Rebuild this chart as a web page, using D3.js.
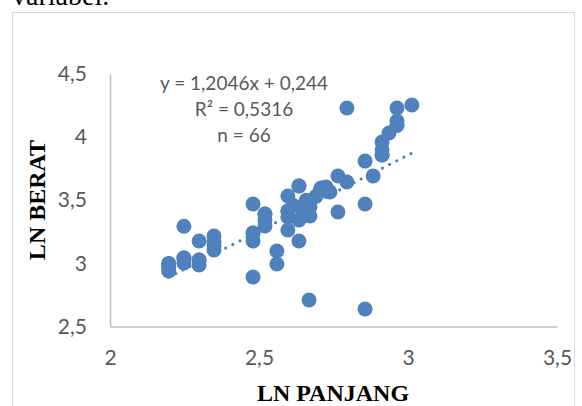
<!DOCTYPE html>
<html>
<head>
<meta charset="utf-8">
<script src="https://cdn.jsdelivr.net/npm/d3@7"></script>
<style>
  body { margin: 0; background: #fff; }
  svg { display: block; }
</style>
</head>
<body>
<div id="chart"></div>
<script>
// LN PANJANG (x) vs LN BERAT (y)
const lnPanjang = [
  2.197, 2.197, 2.197, 2.197,
  2.248, 2.248, 2.248, 2.248,
  2.299, 2.299, 2.299, 2.299,
  2.349, 2.349, 2.349, 2.349,
  2.480, 2.480, 2.480, 2.480, 2.480,
  2.520, 2.520, 2.520, 2.520,
  2.560, 2.560,
  2.597, 2.597, 2.597, 2.597, 2.597,
  2.614, 2.634, 2.634, 2.634, 2.634,
  2.648, 2.658, 2.668, 2.671, 2.671,
  2.691, 2.705, 2.708, 2.725, 2.738,
  2.765, 2.765, 2.795, 2.795,
  2.856, 2.856, 2.856, 2.883,
  2.913, 2.913, 2.913, 2.936,
  2.963, 2.963, 2.963, 3.013,
  2.705, 2.913, 2.963
];
const lnBerat = [
  3.000, 2.970, 2.940, 2.996,
  3.294, 3.042, 3.003, 3.042,
  3.177, 3.027, 2.987, 3.027,
  3.217, 3.169, 3.106, 3.140,
  3.470, 3.240, 3.177, 2.892, 3.240,
  3.391, 3.344, 3.296, 3.391,
  3.098, 2.995,
  3.534, 3.415, 3.367, 3.264, 3.415,
  3.460, 3.613, 3.344, 3.177, 3.613,
  3.414, 3.500, 2.710, 3.447, 3.375,
  3.530, 3.573, 3.597, 3.605, 3.565,
  3.407, 3.692, 3.645, 4.231,
  2.639, 3.470, 3.810, 3.692,
  3.858, 3.898, 3.961, 4.033,
  4.095, 4.127, 4.231, 4.254,
  3.573, 3.858, 4.095
];

const xTicks = [2, 2.5, 3, 3.5];
const yTicks = [2.5, 3, 3.5, 4, 4.5];

// trendline shown in the chart
const slope = 1.2046, intercept = 0.244;
const statLines = ["y = 1,2046x + 0,244", "R\u00b2 = 0,5316", "n = 66"];

const width = 582, height = 406;
const blue = "#4f81bd", grey = "#595959";
const fmt = v => String(v).replace(".", ",");

const svg = d3.select("#chart").append("svg")
    .attr("width", width)
    .attr("height", height);

// text from the page above the chart
svg.append("text")
    .attr("x", 12).attr("y", 5)
    .attr("font-family", "Liberation Serif, Times New Roman, serif")
    .attr("font-size", 28)
    .text("variabel.");

// chart frame
svg.append("rect")
    .attr("x", 12.5).attr("y", 12.5)
    .attr("width", 562).attr("height", 420)
    .attr("fill", "none")
    .attr("stroke", "#d9d9d9");

const x = d3.scaleLinear().domain([2, 3.5]).range([110, 557]);
const y = d3.scaleLinear().domain([2.5, 4.5]).range([326.5, 74]);

// axes
const xAxis = svg.append("g")
    .attr("transform", `translate(0,${y(2.5)})`)
    .call(d3.axisBottom(x).tickValues(xTicks).tickSize(0).tickPadding(24).tickFormat(fmt));
const yAxis = svg.append("g")
    .attr("transform", `translate(${x(2)},0)`)
    .call(d3.axisLeft(y).tickValues(yTicks).tickSize(0).tickPadding(23).tickFormat(fmt));

[xAxis, yAxis].forEach(g => {
    g.select(".domain").attr("stroke", "#bfbfbf").attr("stroke-width", 1.5);
    g.selectAll("text")
        .attr("fill", grey)
        .attr("font-family", "Lato, sans-serif")
        .attr("font-size", 21);
});

// points
const pts = lnPanjang.map((v, i) => ({ x: v, y: lnBerat[i] }));
svg.append("g").selectAll("circle")
    .data(pts).enter()
    .append("circle")
    .attr("cx", d => x(d.x))
    .attr("cy", d => y(d.y))
    .attr("r", 7.5)
    .attr("fill", blue);

// dotted trendline over the data range
const xMin = d3.min(lnPanjang), xMax = d3.max(lnPanjang);
svg.append("line")
    .attr("x1", x(xMin)).attr("y1", y(slope * xMin + intercept))
    .attr("x2", x(xMax)).attr("y2", y(slope * xMax + intercept))
    .attr("stroke", blue)
    .attr("stroke-width", 3.2)
    .attr("stroke-linecap", "round")
    .attr("stroke-dasharray", "0,8");

// equation label
svg.append("g").selectAll("text")
    .data(statLines).enter()
    .append("text")
    .attr("x", 244)
    .attr("y", (d, i) => 90 + i * 26)
    .attr("text-anchor", "middle")
    .attr("fill", grey)
    .attr("font-family", "Lato, sans-serif")
    .attr("font-size", 19)
    .text(d => d);

// axis titles
svg.append("text")
    .attr("x", 333).attr("y", 401)
    .attr("text-anchor", "middle")
    .attr("font-family", "Liberation Serif, Times New Roman, serif")
    .attr("font-weight", "bold")
    .attr("font-size", 24)
    .text("LN PANJANG");

svg.append("text")
    .attr("transform", "translate(45,200) rotate(-90)")
    .attr("text-anchor", "middle")
    .attr("font-family", "Liberation Serif, Times New Roman, serif")
    .attr("font-weight", "bold")
    .attr("font-size", 24)
    .text("LN BERAT");
</script>
</body>
</html>
